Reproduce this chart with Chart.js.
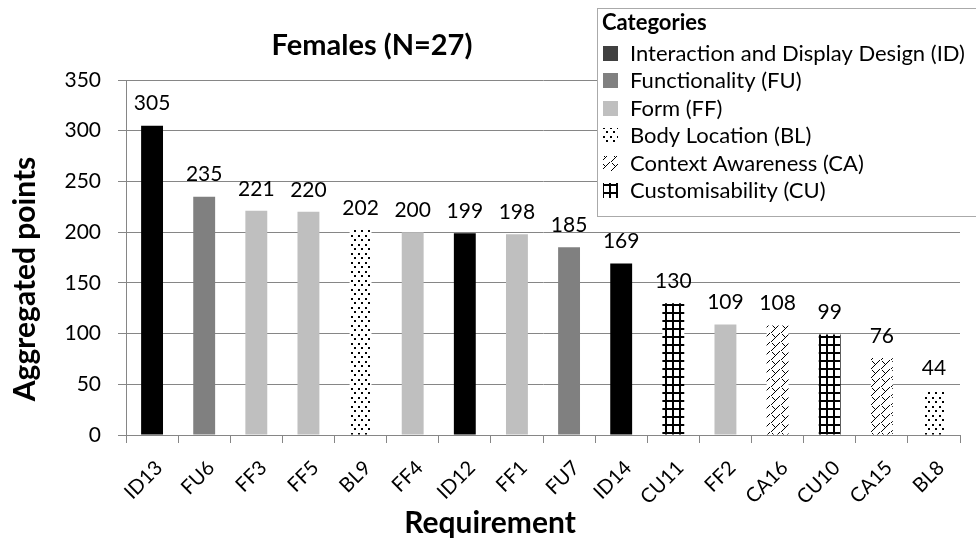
<!DOCTYPE html>
<html>
<head>
<meta charset="utf-8">
<script src="https://cdn.jsdelivr.net/npm/chart.js@4.4.1/dist/chart.umd.min.js"></script>
<style>
  html, body { margin: 0; padding: 0; background: #fff; }
  #wrap { width: 976px; height: 541px; }
</style>
</head>
<body>
<div id="wrap"><canvas id="reqChart" width="976" height="541"></canvas></div>
<script>
// requirements ranked by aggregated points
const requirements = ['ID13', 'FU6', 'FF3', 'FF5', 'BL9', 'FF4', 'ID12', 'FF1', 'FU7', 'ID14', 'CU11', 'FF2', 'CA16', 'CU10', 'CA15', 'BL8'];
const points = [305, 235, 221, 220, 202, 200, 199, 198, 185, 169, 130, 109, 108, 99, 76, 44];

// requirement categories (prefix of the requirement id)
const categoryCodes = ['ID', 'FU', 'FF', 'BL', 'CA', 'CU'];
const categoryNames = [
    'Interaction and Display Design (ID)',
    'Functionality (FU)',
    'Form (FF)',
    'Body Location (BL)',
    'Context Awareness (CA)',
    'Customisability (CU)'
];

const yTicks = { min: 0, max: 350, step: 50 };

const chartTitle = 'Females (N=27)';
const xTitle = 'Requirement';
const yTitle = 'Aggregated points';
const legendTitle = 'Categories';

const FONT = 'Lato, "Open Sans", sans-serif';
const GRID = '#868686';

const canvas = document.getElementById('reqChart');
const ctx = canvas.getContext('2d');

// small repeating tiles for the hatched categories
function makePattern(w, h, draw) {
    const c = document.createElement('canvas');
    c.width = w;
    c.height = h;
    const g = c.getContext('2d');
    g.fillStyle = '#fff';
    g.fillRect(0, 0, w, h);
    g.fillStyle = '#000';
    draw(g);
    return ctx.createPattern(c, 'repeat');
}

const dots = makePattern(7, 9, g => {
    g.fillRect(1, 1, 2, 2);
    g.fillRect(4, 5, 2, 2);
});

const zigzag = makePattern(10, 9, g => {
    for (let i = 0; i < 9; i++) g.fillRect(9 - i, i, 1, 1);
    for (let i = 0; i < 4; i++) g.fillRect(2 + i, 1 + i, 1, 1);
});

const grid = makePattern(7, 8, g => {
    g.fillRect(0, 0, 2, 8);
    g.fillRect(0, 0, 7, 2);
});

const barFill = { ID: '#000000', FU: '#808080', FF: '#bfbfbf', BL: dots, CA: zigzag, CU: grid };
const swatchFill = { ID: '#404040', FU: '#808080', FF: '#bfbfbf', BL: dots, CA: zigzag, CU: grid };

function categoryOf(req) {
    return req.replace(/[0-9]+$/, '');
}

// titles, value labels and the category box
const extras = {
    id: 'extras',
    afterDatasetsDraw(chart) {
        const c = chart.ctx;
        const meta = chart.getDatasetMeta(0);
        c.save();
        c.fillStyle = '#000';
        c.font = '21px ' + FONT;
        c.textAlign = 'center';
        c.textBaseline = 'middle';
        meta.data.forEach((bar, i) => {
            c.fillText(String(points[i]), bar.x, bar.y - 22);
        });
        c.restore();
    },
    afterDraw(chart) {
        const c = chart.ctx;
        c.save();
        c.fillStyle = '#000';
        c.textAlign = 'center';
        c.textBaseline = 'middle';

        c.font = 'bold 29px ' + FONT;
        c.fillText(chartTitle, 372, 46);

        c.font = 'bold 30px ' + FONT;
        c.fillText(xTitle, 490, 523);

        c.save();
        c.translate(25, 279);
        c.rotate(-Math.PI / 2);
        c.fillText(yTitle, 0, 0);
        c.restore();

        // legend box
        const bx = 597.5, by = 8.5;
        c.fillStyle = '#fff';
        c.fillRect(bx, by, 400, 208);
        c.strokeStyle = '#aaaaaa';
        c.lineWidth = 1;
        c.strokeRect(bx, by, 400, 208);

        c.textAlign = 'left';
        c.fillStyle = '#000';
        c.font = 'bold 22px ' + FONT;
        c.fillText(legendTitle, 602, 23);

        c.font = '22px ' + FONT;
        categoryCodes.forEach((code, i) => {
            const rowY = 54 + i * 27.4;
            c.fillStyle = swatchFill[code];
            c.fillRect(603, Math.round(rowY - 8), 15, 15);
            c.fillStyle = '#000';
            c.fillText(categoryNames[i], 630, rowY);
        });
        c.restore();
    }
};

function build() {
    new Chart(ctx, {
        type: 'bar',
        data: {
            labels: requirements,
            datasets: [{
                data: points,
                backgroundColor: requirements.map(r => barFill[categoryOf(r)]),
                borderWidth: 0,
                barPercentage: 1,
                categoryPercentage: 0.42
            }]
        },
        options: {
            responsive: false,
            animation: false,
            devicePixelRatio: 1,
            layout: { padding: { top: 80, right: 16, bottom: 0, left: 0 } },
            plugins: {
                legend: { display: false },
                title: { display: false },
                tooltip: { enabled: false }
            },
            scales: {
                x: {
                    grid: { drawOnChartArea: false, color: GRID, tickLength: 8 },
                    border: { color: GRID },
                    ticks: {
                        minRotation: 45,
                        maxRotation: 45,
                        color: '#000',
                        font: { family: FONT, size: 20 },
                        padding: 13,
                        labelOffset: 7
                    },
                    afterFit: s => { s.height = 106; }
                },
                y: {
                    min: yTicks.min,
                    max: yTicks.max,
                    grid: { color: GRID, tickLength: 8 },
                    border: { color: GRID },
                    ticks: {
                        stepSize: yTicks.step,
                        color: '#000',
                        font: { family: FONT, size: 21 },
                        padding: 17
                    },
                    afterFit: s => { s.width = 126; }
                }
            }
        },
        plugins: [extras]
    });
}

Promise.all([
    document.fonts.load('20px Lato'),
    document.fonts.load('bold 20px Lato')
]).then(build, build);
</script>
</body>
</html>
